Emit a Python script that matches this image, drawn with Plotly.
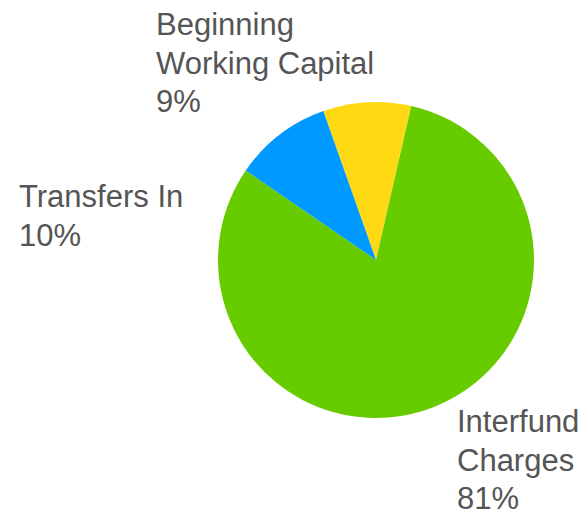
import plotly.graph_objects as go

# slice data, in drawing order (clockwise from ~11 o'clock)
labels = ["Beginning Working Capital", "Interfund Charges", "Transfers In"]
label_lines = [["Beginning", "Working Capital"], ["Interfund", "Charges"], ["Transfers In"]]
values = [9, 81, 10]
colors = ["#FFD914", "#66CC00", "#0099FF"]

W, H = 587, 512
OFF = 8  # page body margin pushes the figure 8px right/down

fig = go.Figure()
fig.add_trace(go.Pie(
    labels=labels,
    values=values,
    sort=False,
    direction="clockwise",
    rotation=340.5,
    marker=dict(colors=colors, line=dict(width=0)),
    textinfo="none",
    hoverinfo="label+percent",
    domain=dict(x=[(218 - OFF) / W, (534 - OFF) / W],
                y=[1 - (418 - OFF) / H, 1 - (102 - OFF) / H]),
))

# outside labels, one annotation per line so the line gap matches
label_pos = [(146, 13), (447, 410), (9, 185)]  # left x, cap top of first line (page px)
line_gap = 38.7
total = sum(values)
for (px, top), lines, v in zip(label_pos, label_lines, values):
    rows = lines + [f"{round(100 * v / total)}%"]
    for i, row in enumerate(rows):
        y_px = top - 16 + i * line_gap
        fig.add_annotation(
            x=px / W, y=1 - y_px / H, xref="paper", yref="paper",
            xanchor="left", yanchor="top", align="left", showarrow=False,
            text=row,
            font=dict(family="Arial, Liberation Sans, sans-serif", size=31, color="#555555"),
        )

fig.update_layout(
    width=W, height=H,
    margin=dict(l=0, r=0, t=0, b=0),
    showlegend=False,
    paper_bgcolor="white",
    plot_bgcolor="white",
)

fig.write_html("out.html")
